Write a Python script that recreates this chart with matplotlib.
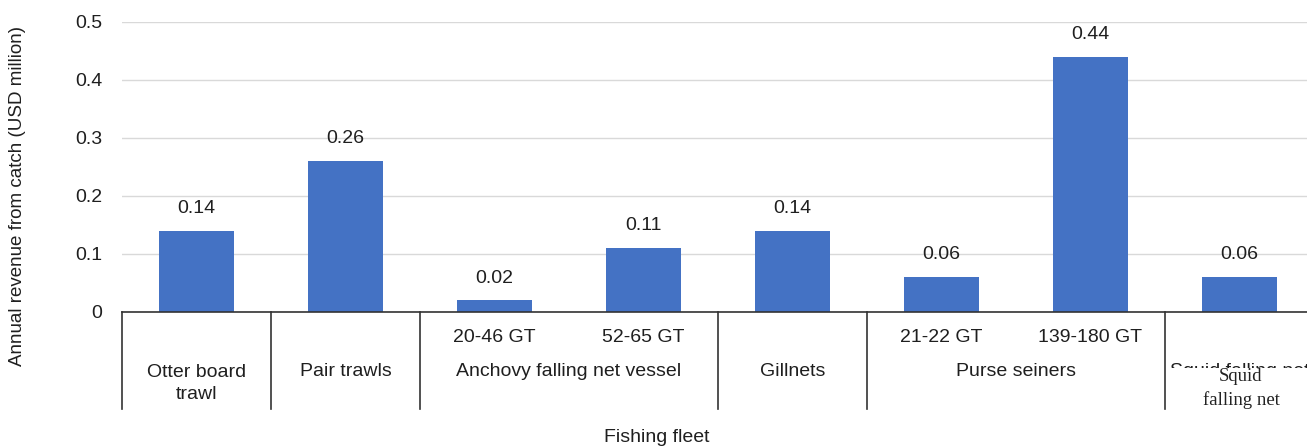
import matplotlib
matplotlib.use("Agg")
import matplotlib.pyplot as plt
import matplotlib.transforms as mtransforms
from matplotlib.patches import Rectangle
from matplotlib.lines import Line2D

# annual revenue per fleet segment (USD million)
sub_labels = ["", "", "20-46 GT", "52-65 GT", "", "21-22 GT", "139-180 GT", ""]
revenue = [0.14, 0.26, 0.02, 0.11, 0.14, 0.06, 0.44, 0.06]
value_text = ["0.14", "0.26", "0.02", "0.11", "0.14", "0.06", "0.44", "0.06"]

# fleet groups: (label, first bar, last bar)
groups = [
    ("Otter board\ntrawl", 0, 0),
    ("Pair trawls", 1, 1),
    ("Anchovy falling net vessel", 2, 3),
    ("Gillnets", 4, 4),
    ("Purse seiners", 5, 6),
    ("Squid falling net", 7, 7),
]
yticks = [0, 0.1, 0.2, 0.3, 0.4, 0.5]
ytick_labels = ["0", "0.1", "0.2", "0.3", "0.4", "0.5"]

plt.rcParams["font.family"] = ["Liberation Sans", "DejaVu Sans"]
txt_color = "#1f1f1f"
bar_color = "#4472c4"
FS = 14

W, H = 1307, 446
fig = plt.figure(figsize=(W / 100, H / 100), dpi=100)
fig.patch.set_facecolor("white")

def fx(px):
    return px / W

def fy(py):
    return 1 - py / H

ax = fig.add_axes([fx(122), fy(312), fx(1314) - fx(122), fy(22) - fy(312)])

x = list(range(len(revenue)))
ax.bar(x, revenue, width=0.505, color=bar_color, zorder=3)
ax.set_xlim(-0.5, len(revenue) - 0.5)
ax.set_ylim(0, 0.5)

for xi, v, t in zip(x, revenue, value_text):
    ax.annotate(t, (xi, v), xytext=(0, 16), textcoords="offset points",
                ha="center", va="center", fontsize=FS, color=txt_color)

ax.set_yticks(yticks)
ax.set_yticklabels(ytick_labels, fontsize=FS, color=txt_color)
ax.tick_params(axis="y", length=0, pad=14)
ax.set_xticks([])
ax.grid(axis="y", color="#d9d9d9", lw=1, zorder=0)
for s in ["left", "right", "top"]:
    ax.spines[s].set_visible(False)
ax.spines["bottom"].set_color("#333333")
ax.spines["bottom"].set_linewidth(1.2)
ax.spines["bottom"].set_zorder(4)

# multi-level category axis
trans = mtransforms.blended_transform_factory(ax.transData, fig.transFigure)
for xi, lab in zip(x, sub_labels):
    if lab:
        ax.text(xi, fy(337), lab, transform=trans, ha="center", va="center",
                fontsize=FS, color=txt_color, clip_on=False)

edges = []
for lab, a, b in groups:
    xc = (a + b) / 2
    yc = fy(383.5) if "\n" in lab else fy(372)
    ax.text(xc, yc, lab, transform=trans, ha="center", va="center",
            fontsize=FS, color=txt_color, linespacing=1.38, clip_on=False)
    edges += [a - 0.5, b + 0.5]
for e in sorted(set(edges)):
    ax.add_line(Line2D([e, e], [fy(312), fy(409)], transform=trans,
                       color="#333333", lw=1.2, clip_on=False))

# relabelled last group
fig.add_artist(Rectangle((fx(1166), fy(440)), fx(1307) - fx(1166), fy(368) - fy(440),
                         transform=fig.transFigure, facecolor="white",
                         edgecolor="none", zorder=5))
fig.text(fx(1241), fy(388.5), "Squid\nfalling net", ha="center", va="center",
         fontsize=13.5, family="Liberation Serif", color="#222222",
         linespacing=1.38, zorder=6)

fig.text(fx(657), fy(437), "Fishing fleet", ha="center", va="center",
         fontsize=FS, color=txt_color)
fig.text(fx(18), fy(196), "Annual revenue from catch (USD million)", rotation=90,
         ha="center", va="center", fontsize=13.5, color=txt_color)

fig.savefig("out.png", dpi=100)
